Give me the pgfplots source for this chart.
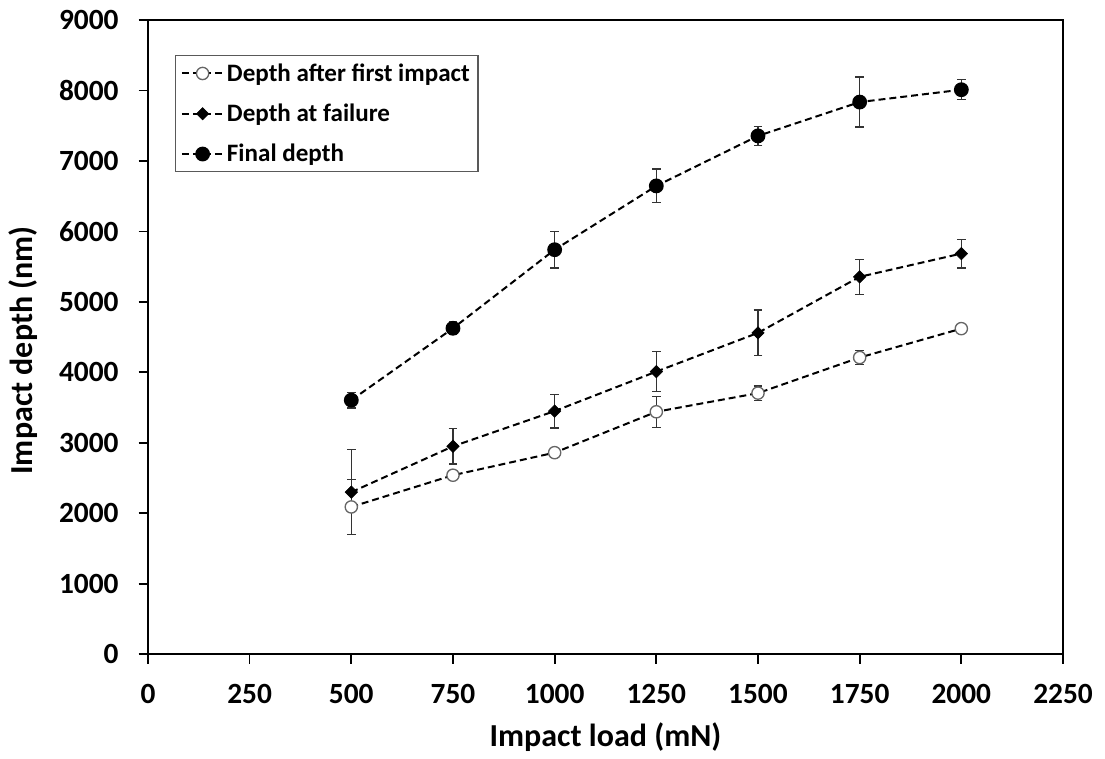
\documentclass[border=0pt]{standalone}
\usepackage{fontspec}
\setmainfont{Carlito}
\usepackage{pgfplots}
\pgfplotsset{compat=1.18}

% depth data: load, mean, error
\pgfplotstableread{
x y e
500 2090 390
750 2540 60
1000 2860 60
1250 3440 220
1500 3705 100
1750 4210 100
2000 4620 60
}\firstimpact
\pgfplotstableread{
x y e
500 2300 600
750 2950 250
1000 3450 240
1250 4010 280
1500 4560 325
1750 5355 250
2000 5685 205
}\failure
\pgfplotstableread{
x y e
500 3605 110
750 4625 90
1000 5740 260
1250 6645 240
1500 7355 135
1750 7835 355
2000 8010 140
}\finaldepth

\begin{document}
\begin{tikzpicture}
\begin{axis}[
  scale only axis,
  width=686pt, height=475.5pt,
  xmin=0, xmax=2250, ymin=0, ymax=9000,
  xtick={0,250,...,2250},
  ytick={0,1000,...,9000},
  axis line style={line width=1.5pt},
  tick style={line width=1.3pt, black},
  tick align=outside, tick pos=left,
  major tick length=7pt,
  /pgf/number format/assume math mode=true,
  /pgf/number format/1000 sep={},
  ticklabel style={font=\fontsize{22}{24}\selectfont\bfseries},
  yticklabel style={xshift=-11.5pt},
  xticklabel style={yshift=-12pt},
  xlabel={Impact load (mN)},
  ylabel={Impact depth (nm)},
  every axis x label/.style={at={(axis description cs:0.5,-0.13)},anchor=center,
    font=\fontsize{24}{27}\selectfont\bfseries},
  every axis y label/.style={at={(axis description cs:-0.1366,0.479)},rotate=90,anchor=center,
    font=\fontsize{24}{27}\selectfont\bfseries},
  clip=false,
  legend style={
    at={(axis description cs:0.0295,0.9448)}, anchor=north west,
    draw=black!65, line width=1pt,
    font=\fontsize{18.8}{20}\selectfont\bfseries,
    inner xsep=4pt, inner ysep=4pt,
    row sep=11.5pt,
    cells={anchor=west},
  },
  legend image code/.code={
    \draw[mark repeat=2,mark phase=2,#1] plot coordinates {(0pt,0pt) (15.5pt,0pt) (31pt,0pt)};
  },
  every axis plot/.append style={
    line width=1.5pt, black, dash pattern=on 5.2pt off 3pt,
    error bars/y dir=both, error bars/y explicit,
    error bars/error bar style={line width=0.9pt, black!80, solid},
    error bars/error mark options={rotate=90, mark size=3.2pt, line width=0.9pt, black!80, solid},
  },
]
\addplot[mark=*, mark size=4.6pt, mark options={solid, fill=white, draw=black!60, line width=1pt}]
  table[x=x, y=y, y error=e] {\firstimpact};
\addlegendentry{Depth after first impact}
\addplot[mark=square*, mark size=3.3pt, mark options={solid, rotate=45, fill=black, draw=black, line width=0.4pt}]
  table[x=x, y=y, y error=e] {\failure};
\addlegendentry{Depth at failure}
\addplot[mark=*, mark size=4.8pt, mark options={solid, fill=black, draw=black}]
  table[x=x, y=y, y error=e] {\finaldepth};
\addlegendentry{Final depth}
% page extent
\path (rel axis cs:-0.1617,-0.164) rectangle (rel axis cs:1.0459,1.0315);
\end{axis}
\end{tikzpicture}
\end{document}
